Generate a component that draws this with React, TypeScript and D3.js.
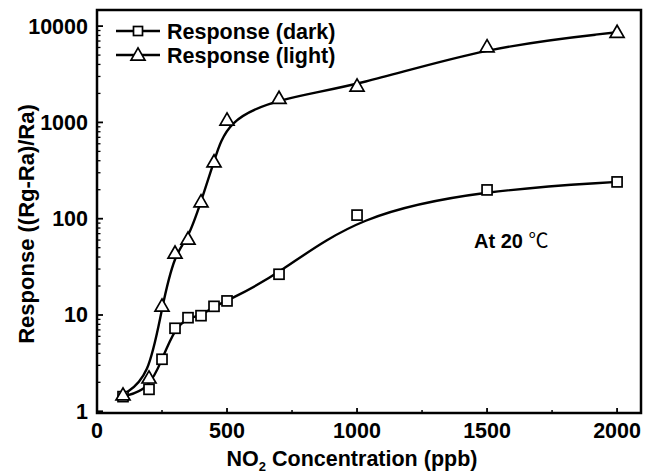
import React from "react";
import * as d3 from "d3";

const concentrations = [100, 200, 250, 300, 350, 400, 450, 500, 700, 1000, 1500, 2000];
const darkResponse = [1.42, 1.69, 3.47, 7.28, 9.38, 9.84, 12.3, 14.0, 26.5, 109, 199, 241];
const lightResponse = [1.48, 2.22, 12.4, 44, 61.5, 150, 390, 1060, 1780, 2390, 6110, 8630];
const xTicks = [0, 500, 1000, 1500, 2000];
const xMinorTicks = [250, 750, 1250, 1750];
const yTicks = [1, 10, 100, 1000, 10000];
const seriesNames = ["Response (dark)", "Response (light)"];

const W = 645;
const H = 475;
const left = 97;
const right = 641;
const top = 10;
const bottom = 413;
const FONT = "'Liberation Sans', Arial, sans-serif";

export default function App() {
  const x = d3.scaleLinear().domain([0, 2092]).range([left, right]);
  const y = d3.scaleLog().domain([0.96, 14700]).range([bottom, top]);

  const line = d3
    .line<number>()
    .x((_, i) => x(concentrations[i]))
    .y((v) => y(v))
    .curve(d3.curveBasis);

  const minorY: number[] = [];
  for (let d = 1; d < 10000; d *= 10) {
    for (let k = 2; k <= 9; k++) minorY.push(d * k);
  }
  for (let k = 2; k * 10000 <= 14700; k++) minorY.push(k * 10000);

  const sq = 10;
  const tri = (cx: number, cy: number, s = 14) => {
    const h = s * 0.866;
    return `M${cx},${cy - h / 2 - 1}L${cx + s / 2},${cy + h / 2 - 1}L${cx - s / 2},${cy + h / 2 - 1}Z`;
  };

  return (
    <svg width={W} height={H} style={{ position: "absolute", left: 0, top: 0, background: "#fff" }}>
      <rect x={0} y={0} width={W} height={H} fill="#fff" />
      {/* curves */}
      <path d={line(darkResponse) || ""} fill="none" stroke="#000" strokeWidth={2.4} />
      <path d={line(lightResponse) || ""} fill="none" stroke="#000" strokeWidth={2.4} />
      {/* markers */}
      {darkResponse.map((v, i) => (
        <rect
          key={"d" + i}
          x={x(concentrations[i]) - sq / 2}
          y={y(v) - sq / 2}
          width={sq}
          height={sq}
          fill="#fff"
          stroke="#000"
          strokeWidth={1.7}
        />
      ))}
      {lightResponse.map((v, i) => (
        <path key={"l" + i} d={tri(x(concentrations[i]), y(v))} fill="#fff" stroke="#000" strokeWidth={1.7} />
      ))}
      {/* frame */}
      <rect x={left} y={top} width={right - left} height={bottom - top} fill="none" stroke="#000" strokeWidth={2.5} />
      {/* x ticks */}
      {xTicks.map((t) => (
        <g key={"xt" + t}>
          <line x1={x(t)} x2={x(t)} y1={bottom} y2={bottom - 5} stroke="#000" strokeWidth={1.8} />
          <text x={x(t)} y={438} textAnchor="middle" fontFamily={FONT} fontWeight="bold" fontSize={21.5}>
            {t}
          </text>
        </g>
      ))}
      {xMinorTicks.map((t) => (
        <line key={"xm" + t} x1={x(t)} x2={x(t)} y1={bottom} y2={bottom - 3} stroke="#000" strokeWidth={1.5} />
      ))}
      {/* y ticks */}
      {yTicks.map((t) => (
        <g key={"yt" + t}>
          <line x1={left} x2={left + 6} y1={y(t)} y2={y(t)} stroke="#000" strokeWidth={1.8} />
          <text x={88} y={y(t) + 7.5} textAnchor="end" fontFamily={FONT} fontWeight="bold" fontSize={21.5}>
            {t}
          </text>
        </g>
      ))}
      {minorY.map((t) => (
        <line key={"ym" + t} x1={left} x2={left + 3.5} y1={y(t)} y2={y(t)} stroke="#000" strokeWidth={1.3} />
      ))}
      {/* axis titles */}
      <text
        transform={`translate(34,224) rotate(-90)`}
        textAnchor="middle"
        fontFamily={FONT}
        fontWeight="bold"
        fontSize={22}
      >
        Response ((Rg-Ra)/Ra)
      </text>
      <text x={352} y={466} textAnchor="middle" fontFamily={FONT} fontWeight="bold" fontSize={21.5}>
        NO
        <tspan dy={5} fontSize={13}>2</tspan>
        <tspan dy={-5}> Concentration (ppb)</tspan>
      </text>
      {/* annotation */}
      <text x={474} y={248} fontFamily={FONT} fontWeight="bold" fontSize={20}>
        At 20 <tspan fontFamily="'Noto Sans CJK SC', sans-serif" fontWeight="normal">℃</tspan>
      </text>
      {/* legend */}
      {seriesNames.map((name, i) => {
        const ly = 31 + i * 24;
        const cx = 138;
        return (
          <g key={"lg" + i}>
            <line x1={116} x2={160} y1={ly} y2={ly} stroke="#000" strokeWidth={2.4} />
            {i === 0 ? (
              <rect x={cx - 4.5} y={ly - 4.5} width={9} height={9} fill="#fff" stroke="#000" strokeWidth={1.7} />
            ) : (
              <path d={tri(cx, ly)} fill="#fff" stroke="#000" strokeWidth={1.7} />
            )}
            <text x={167} y={ly + 7.5} fontFamily={FONT} fontWeight="bold" fontSize={21.5}>
              {name}
            </text>
          </g>
        );
      })}
    </svg>
  );
}
